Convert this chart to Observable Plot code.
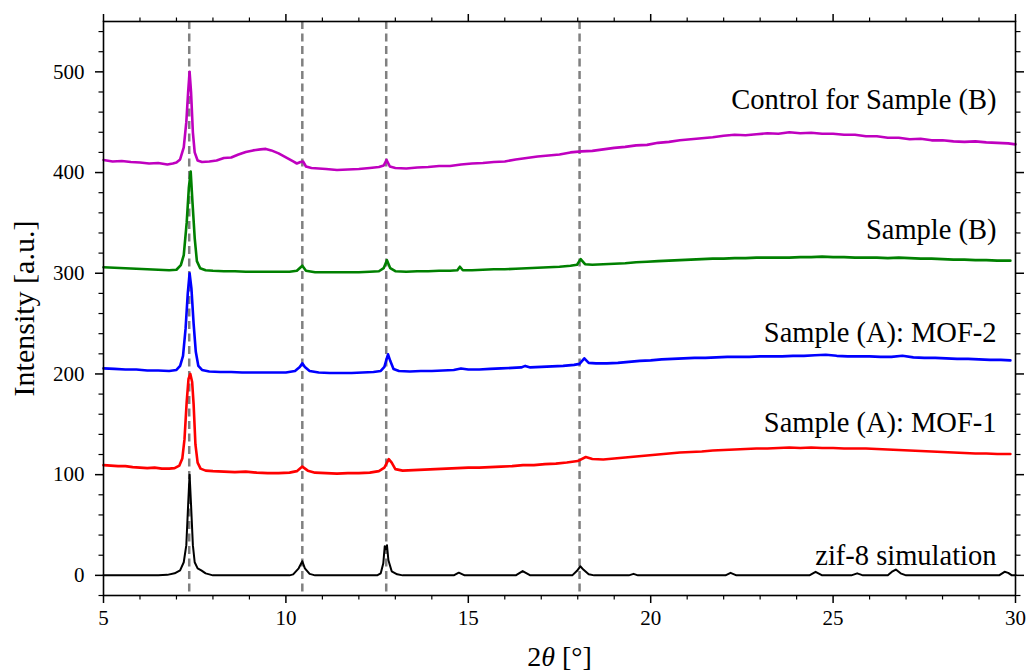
<!DOCTYPE html>
<html>
<head>
<meta charset="utf-8">
<script src="https://cdn.jsdelivr.net/npm/d3@7"></script>
<script src="https://cdn.jsdelivr.net/npm/@observablehq/plot@0.6"></script>
<style>
  html, body { margin: 0; padding: 0; background: #fff; font-family: 'Liberation Serif', serif; }
  #chart { width: 1027px; height: 671px; }
</style>
</head>
<body>
<div id="chart"></div>
<script>
// ---- Data ----
const xMajorTicks = [5, 10, 15, 20, 25, 30];
const xMinorTicks = [6, 7, 8, 9, 11, 12, 13, 14, 16, 17, 18, 19, 21, 22, 23, 24, 26, 27, 28, 29];
const yMajorTicks = [0, 100, 200, 300, 400, 500];
const yMinorTicks = [-20, 20, 40, 60, 80, 120, 140, 160, 180, 220, 240, 260, 280, 320, 340, 360, 380, 420, 440, 460, 480, 520, 540];

const zif8Peaks = [7.35, 10.45, 12.75, 18.05];

const seriesNames = ["zif-8 simulation", "Sample (A): MOF-1", "Sample (A): MOF-2", "Sample (B)", "Control for Sample (B)"];
const seriesColors = ["#000000", "#ff0000", "#0000ff", "#008000", "#bf00bf"];
const labelX = [29.48, 29.48, 29.48, 29.48, 29.48];
const labelY = [10, 142.5, 232, 334, 463.5];

const simX = [5.0, 6.5, 6.75, 6.95, 7.1, 7.2, 7.27, 7.32, 7.36, 7.4, 7.45, 7.5, 7.58, 7.68, 7.8, 8.0,
  10.1, 10.2, 10.35, 10.45, 10.52, 10.65, 10.8, 12.5, 12.6, 12.67, 12.71, 12.74, 12.77, 12.81, 12.9, 13.05, 13.2,
  14.6, 14.74, 14.9, 16.3, 16.49, 16.7, 17.85, 17.98, 18.07, 18.16, 18.3, 18.45, 19.4, 19.53, 19.65,
  22.05, 22.19, 22.35, 24.35, 24.52, 24.7, 25.5, 25.66, 25.82, 26.5, 26.63, 26.72, 26.85, 27.0,
  29.55, 29.7, 29.8, 29.9, 30.0];
const simY = [0, 0, 0.5, 2, 5, 13, 30, 70, 100, 70, 30, 13, 7, 5, 2, 0,
  0, 1, 7, 14, 7, 1.5, 0, 0, 2, 12, 29, 26, 30, 15, 4, 1, 0,
  0, 2.7, 0, 0, 4.3, 0, 0, 4.5, 9, 5.5, 1, 0, 0, 1.5, 0,
  0, 2.5, 0, 0, 3.5, 0, 0, 2, 0, 0, 4, 5.8, 2, 0,
  0, 3.5, 2.5, 0, 0];

const mof1X = [5.0, 5.2, 5.4, 5.6, 5.8, 6.0, 6.2, 6.4, 6.6, 6.8, 6.95, 7.08, 7.16, 7.22, 7.28, 7.33, 7.38, 7.43, 7.47, 7.52, 7.58, 7.66, 7.8,
  8.0, 8.3, 8.6, 8.9, 9.2, 9.5, 9.8, 10.1, 10.3, 10.45, 10.6, 10.8, 11.1, 11.4, 11.7, 12.0, 12.3, 12.55, 12.7, 12.82, 12.9, 13.0,
  13.2, 13.5, 13.8, 14.1, 14.4, 14.7, 15.0, 15.3, 15.6, 15.9, 16.2, 16.5, 16.8, 17.1, 17.4, 17.7, 18.0, 18.22, 18.4, 18.7,
  19.0, 19.3, 19.6, 19.9, 20.2, 20.5, 20.8, 21.1, 21.4, 21.7, 22.0, 22.3, 22.6, 22.9, 23.2, 23.5, 23.8, 24.1, 24.4, 24.7,
  25.0, 25.3, 25.6, 25.9, 26.2, 26.5, 26.8, 27.1, 27.4, 27.7, 28.0, 28.3, 28.6, 28.9, 29.2, 29.5, 29.86];
const mof1Y = [109.5, 109, 108.5, 108.5, 107.5, 107, 106.5, 107, 106, 106, 106.5, 109, 116, 135, 172, 195, 200, 192, 170, 130, 112, 106, 104,
  103.5, 103, 102.5, 103, 102, 101.5, 101.5, 102, 103.5, 108, 104, 102, 101.5, 101, 101.5, 101.5, 102, 103.5, 107, 115.5, 112, 105.5,
  104, 104.5, 105, 105.5, 106, 106.5, 107, 107, 107.5, 108, 108.5, 109.5, 109.5, 110.5, 111, 112, 113.5, 117.5, 115.5, 115,
  116, 117, 118, 119, 120, 121, 122, 122.5, 123, 124, 124.5, 125, 125.5, 126, 126, 126.5, 127, 126.5, 127, 126.5,
  126.5, 126, 126, 126, 125.5, 125, 124.5, 124, 123.5, 123, 122.5, 122, 121.5, 121, 121, 120.5, 120.5];

const mof2X = [5.0, 5.3, 5.6, 5.9, 6.2, 6.5, 6.8, 7.0, 7.1, 7.18, 7.25, 7.31, 7.36, 7.41, 7.47, 7.53, 7.6, 7.7, 7.9,
  8.2, 8.5, 8.8, 9.1, 9.4, 9.7, 10.0, 10.25, 10.38, 10.45, 10.52, 10.65, 10.9, 11.2, 11.5, 11.8, 12.1, 12.4, 12.6, 12.7, 12.77, 12.8, 12.86, 12.95,
  13.1, 13.4, 13.7, 14.0, 14.3, 14.6, 14.8, 15.0, 15.3, 15.6, 15.9, 16.2, 16.45, 16.56, 16.7, 17.0, 17.3, 17.6, 17.9, 18.05, 18.18, 18.3, 18.5, 18.8,
  19.1, 19.4, 19.7, 20.0, 20.3, 20.6, 20.9, 21.2, 21.5, 21.8, 22.1, 22.4, 22.7, 23.0, 23.3, 23.6, 23.9, 24.2, 24.5, 24.8,
  25.1, 25.4, 25.7, 26.0, 26.3, 26.6, 26.9, 27.2, 27.5, 27.8, 28.1, 28.4, 28.7, 29.0, 29.3, 29.6, 29.86];
const mof2Y = [205.5, 205, 204.5, 204.5, 203.5, 203.5, 203, 204, 208, 218, 245, 280, 300, 285, 250, 222, 208, 204, 202.5,
  202, 202, 201.5, 201.5, 201.5, 201.5, 201.5, 203, 207, 210.5, 207, 203, 201.5, 201, 201, 201, 201.5, 202, 203, 207, 216, 219.5, 213, 205,
  203, 202.5, 203, 203, 203.5, 204, 205.5, 204.5, 204.5, 205, 205.5, 206, 206.5, 208, 206.5, 207, 207.5, 208, 209, 210, 215.5, 211, 210.5, 210.5,
  211, 212, 213, 213.5, 214.5, 215, 215.5, 216, 216, 216.5, 217, 217, 217, 217.5, 217.5, 217.5, 218, 218, 218.5, 219,
  218, 217.5, 217.5, 217.5, 217, 217, 218, 216.5, 216, 216, 215.5, 215, 215, 214.5, 214, 214, 213.5];

const sampleBX = [5.0, 5.3, 5.6, 5.9, 6.2, 6.5, 6.8, 7.0, 7.12, 7.2, 7.28, 7.34, 7.39, 7.44, 7.5, 7.56, 7.65, 7.8,
  8.0, 8.3, 8.6, 8.9, 9.2, 9.5, 9.8, 10.1, 10.3, 10.45, 10.55, 10.8, 11.1, 11.4, 11.7, 12.0, 12.3, 12.55, 12.68, 12.77, 12.86,
  13.0, 13.3, 13.6, 13.9, 14.2, 14.5, 14.7, 14.77, 14.85, 15.1, 15.4, 15.7, 16.0, 16.3, 16.6, 16.9, 17.2, 17.5, 17.8, 17.98, 18.08, 18.2, 18.4, 18.7,
  19.0, 19.3, 19.6, 19.9, 20.2, 20.5, 20.8, 21.1, 21.4, 21.7, 22.0, 22.3, 22.6, 22.9, 23.2, 23.5, 23.8, 24.1, 24.4, 24.7,
  25.0, 25.3, 25.6, 25.9, 26.2, 26.5, 26.8, 27.1, 27.4, 27.7, 28.0, 28.3, 28.6, 28.9, 29.2, 29.5, 29.86];
const sampleBY = [306, 305.5, 305, 304.5, 304, 303.5, 303, 303.5, 308, 318, 350, 385, 401, 370, 335, 312, 305, 303,
  302.5, 302, 302, 301.5, 301.5, 301.5, 301.5, 301.5, 302.5, 307.5, 302.5, 301, 301, 301, 301, 301, 301.5, 302, 305, 313, 305,
  302, 301.5, 302, 302, 302.5, 302.5, 303, 306.5, 303, 303, 303.5, 304, 304, 304.5, 305, 305.5, 306, 306.5, 307.5, 308.5, 314, 309, 308.5, 309,
  309.5, 310, 311, 311.5, 312, 312.5, 313, 313.5, 314, 314.5, 314.5, 315, 315, 315.5, 315.5, 315.5, 315.5, 316, 316, 316.5,
  316, 316, 315.5, 315.5, 315.5, 315, 315.5, 315, 314.5, 314.5, 314, 313.5, 313.5, 313, 313, 312.5, 312.5];

const controlX = [5.0, 5.25, 5.5, 5.75, 6.0, 6.25, 6.5, 6.75, 6.9, 7.0, 7.1, 7.2, 7.27, 7.32, 7.36, 7.4, 7.45, 7.5, 7.58, 7.7, 7.9,
  8.1, 8.3, 8.5, 8.7, 8.9, 9.1, 9.3, 9.45, 9.6, 9.8, 10.0, 10.2, 10.3, 10.4, 10.47, 10.55, 10.7, 10.9, 11.1, 11.4, 11.7, 12.0, 12.3, 12.55, 12.68, 12.76, 12.85,
  13.0, 13.3, 13.6, 13.9, 14.2, 14.5, 14.8, 15.1, 15.4, 15.7, 16.0, 16.3, 16.6, 16.9, 17.2, 17.5, 17.8, 18.1, 18.4, 18.7,
  19.0, 19.3, 19.6, 19.9, 20.2, 20.5, 20.8, 21.1, 21.4, 21.7, 22.0, 22.3, 22.6, 22.9, 23.2, 23.5, 23.8, 24.1, 24.4, 24.7,
  25.0, 25.3, 25.6, 25.9, 26.2, 26.5, 26.8, 27.1, 27.4, 27.7, 28.0, 28.3, 28.6, 28.9, 29.2, 29.5, 29.8, 30.0];
const controlY = [412.5, 411, 411.5, 410.5, 410, 409, 409.5, 408, 409, 410, 413, 425, 450, 480, 500, 480, 440, 420, 412, 410.5, 411,
  412, 414.5, 415, 418, 420.5, 422, 423, 423.5, 422, 419, 415, 411, 409, 410.5, 411, 406, 404.5, 404, 403.5, 402.5, 403, 403.5, 404.5, 405.5, 407, 412.5, 406,
  404.5, 404, 405, 405.5, 406.5, 406.5, 408, 409, 409.5, 410.5, 411, 413, 414.5, 416, 417, 418, 420, 421, 421.5, 423,
  424.5, 425.5, 427, 427.5, 429.5, 430.5, 432, 433, 434, 435, 436.5, 437.5, 437, 438, 439, 438.5, 440, 439, 439.5, 438.5,
  438.5, 437.5, 437.5, 436, 436, 434.5, 434.5, 433, 433.5, 432, 432, 431, 430.5, 431, 430, 429.5, 429, 428];

// ---- Build tables from the arrays ----
const seriesXs = [simX, mof1X, mof2X, sampleBX, controlX];
const seriesYs = [simY, mof1Y, mof2Y, sampleBY, controlY];
const seriesRows = seriesNames.map((name, i) =>
  seriesXs[i].map((x, j) => ({series: name, x, y: seriesYs[i][j]})));
const labelRows = seriesNames.map((name, i) => ({name, x: labelX[i], y: labelY[i]}));

const FF = "Liberation Serif";

function render() {
  const lineMarks = seriesRows.map((rows, i) =>
    Plot.line(rows, {x: "x", y: "y", stroke: seriesColors[i], strokeWidth: i === 0 ? 2 : 2.6, strokeLinejoin: "round"}));

  const chart = Plot.plot({
    width: 1027,
    height: 671,
    marginLeft: 103,
    marginRight: 12,
    marginTop: 21,
    marginBottom: 76,
    style: "font-family: 'Liberation Serif'; font-size: 21px; background: #ffffff; color: #000000; overflow: visible;",
    x: {domain: [5, 30], label: null},
    y: {domain: [-20, 550], label: null},
    marks: [
      Plot.ruleX(zif8Peaks, {stroke: "#808080", strokeWidth: 2.5, strokeDasharray: "8,4.5"}),
      ...lineMarks,
      Plot.text(labelRows, {x: "x", y: "y", text: "name", textAnchor: "end", lineAnchor: "bottom", fontSize: 28.5, fontFamily: FF, fill: "#000"}),
      Plot.axisX(xMajorTicks, {anchor: "bottom", tickSize: 8, tickPadding: 7, strokeWidth: 1.5, label: null, fontSize: 21, fontFamily: FF}),
      Plot.axisX(xMinorTicks, {anchor: "bottom", tickSize: 4.5, strokeWidth: 1.2, tickFormat: () => "", label: null}),
      Plot.axisX(xMajorTicks, {anchor: "top", tickSize: 8, strokeWidth: 1.5, tickFormat: () => "", label: null}),
      Plot.axisX(xMinorTicks, {anchor: "top", tickSize: 4.5, strokeWidth: 1.2, tickFormat: () => "", label: null}),
      Plot.axisY(yMajorTicks, {anchor: "left", tickSize: 8, tickPadding: 11, strokeWidth: 1.5, label: null, fontSize: 21, fontFamily: FF}),
      Plot.axisY(yMinorTicks, {anchor: "left", tickSize: 4.5, strokeWidth: 1.2, tickFormat: () => "", label: null}),
      Plot.axisY(yMajorTicks, {anchor: "right", tickSize: 8, strokeWidth: 1.5, tickFormat: () => "", label: null}),
      Plot.axisY(yMinorTicks, {anchor: "right", tickSize: 4.5, strokeWidth: 1.2, tickFormat: () => "", label: null}),
      Plot.text(["Intensity [a.u.]"], {frameAnchor: "left", rotate: -90, dx: -79, textAnchor: "middle", lineAnchor: "middle", fontSize: 30, fontFamily: FF}),
      Plot.text(["2θ [°]"], {frameAnchor: "bottom", dy: 62, textAnchor: "middle", lineAnchor: "middle", fontSize: 28, fontFamily: FF}),
      Plot.frame({stroke: "#000", strokeWidth: 1.6})
    ]
  });

  chart.querySelectorAll("text").forEach(t => {
    if (t.textContent === "2θ [°]") {
      const ns = "http://www.w3.org/2000/svg";
      t.textContent = "";
      const a = document.createElementNS(ns, "tspan"); a.textContent = "2";
      const b = document.createElementNS(ns, "tspan"); b.textContent = "θ"; b.setAttribute("font-style", "italic");
      const c = document.createElementNS(ns, "tspan"); c.textContent = " [°]";
      t.append(a, b, c);
    }
  });

  const host = document.getElementById("chart");
  host.replaceChildren(chart);
}

render();
// make sure the serif face is loaded, then draw again with it
if (document.fonts && document.fonts.load) {
  Promise.all([
    document.fonts.load("28px 'Liberation Serif'", "Control 0123456789"),
    document.fonts.load("italic 28px 'Liberation Serif'", "θ")
  ]).then(render, render);
}
</script>
</body>
</html>
